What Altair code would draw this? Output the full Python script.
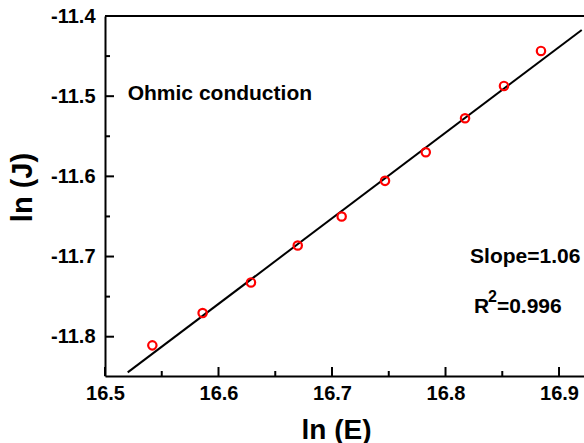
import altair as alt
import pandas as pd

# data
lnE = [16.5417, 16.5860, 16.6286, 16.6698, 16.7085, 16.7467, 16.7826, 16.8172, 16.8515, 16.8841]
lnJ = [-11.8108, -11.7705, -11.7323, -11.6862, -11.6501, -11.6056, -11.5699, -11.5275, -11.4872, -11.4436]
fit_x = [16.52, 16.92]
fit_y = [-11.8445, -11.4174]

x_major = [16.5, 16.6, 16.7, 16.8, 16.9]
x_minor = [16.55, 16.65, 16.75, 16.85]
y_major = [-11.8, -11.7, -11.6, -11.5, -11.4]
y_minor = [-11.75, -11.65, -11.55, -11.45]

X_DOM = [16.5, 16.922]
Y_DOM = [-11.849, -11.4]
FONT = "Liberation Sans"

pts = pd.DataFrame({"x": lnE, "y": lnJ})
fit = pd.DataFrame({"x": fit_x, "y": fit_y})

xs = alt.Scale(domain=X_DOM, nice=False, zero=False)
ys = alt.Scale(domain=Y_DOM, nice=False, zero=False)

LBL = "replace(format(datum.value, '.1f'), '\u2212', '-')"

xaxis = alt.Axis(values=x_major, labelExpr=LBL, ticks=False, grid=False,
                 domainColor="black", domainWidth=2, labelFont=FONT, labelFontSize=20,
                 labelFontWeight="bold", labelColor="black", labelPadding=7,
                 labelFlush=False,
                 title="ln (E)", titleFont=FONT, titleFontSize=28, titleFontWeight="bold",
                 titleColor="black", titleX=231, titleY=62, titleBaseline="alphabetic",
                 titleAlign="center")
yaxis = alt.Axis(values=y_major, labelExpr=LBL, ticks=False, grid=False,
                 domainColor="black", domainWidth=2, labelFont=FONT, labelFontSize=20,
                 labelFontWeight="bold", labelColor="black", labelPadding=10,
                 labelFlush=False,
                 title="ln (J)", titleFont=FONT, titleFontSize=29, titleFontWeight="bold",
                 titleColor="black", titleX=-83, titleY=171, titleAngle=-90,
                 titleAlign="center", titleBaseline="middle")

line = alt.Chart(fit).mark_line(color="black", strokeWidth=2).encode(
    x=alt.X("x:Q", scale=xs, axis=xaxis),
    y=alt.Y("y:Q", scale=ys, axis=yaxis),
)

points = alt.Chart(pts).mark_point(shape="circle", filled=False, color="#ff0000",
                                   strokeWidth=2.2, size=70, opacity=1).encode(
    x=alt.X("x:Q", scale=xs), y=alt.Y("y:Q", scale=ys))

# inward ticks
xmaj = alt.Chart(pd.DataFrame({"v": x_major})).mark_rule(color="black", strokeWidth=2).encode(
    x=alt.X("v:Q", scale=xs), y=alt.value(360), y2=alt.value(351))
xmin = alt.Chart(pd.DataFrame({"v": x_minor})).mark_rule(color="black", strokeWidth=2).encode(
    x=alt.X("v:Q", scale=xs), y=alt.value(360), y2=alt.value(355))
ymaj = alt.Chart(pd.DataFrame({"v": y_major})).mark_rule(color="black", strokeWidth=2).encode(
    y=alt.Y("v:Q", scale=ys), x=alt.value(0), x2=alt.value(9))
ymin = alt.Chart(pd.DataFrame({"v": y_minor})).mark_rule(color="black", strokeWidth=2).encode(
    y=alt.Y("v:Q", scale=ys), x=alt.value(0), x2=alt.value(5))

top = alt.Chart(pd.DataFrame({"v": [Y_DOM[1]]})).mark_rule(color="black", strokeWidth=2).encode(
    y=alt.Y("v:Q", scale=ys), x=alt.value(0), x2=alt.value(479))

def label(text, x, y, size, dx=0, dy=0):
    return alt.Chart(pd.DataFrame({"x": [x], "y": [y], "t": [text]})).mark_text(
        font=FONT, fontSize=size, fontWeight="bold", color="black", align="left",
        baseline="alphabetic", dx=dx, dy=dy).encode(
        x=alt.X("x:Q", scale=xs), y=alt.Y("y:Q", scale=ys), text="t:N")

ann = [
    label("Ohmic conduction", 16.520, -11.5047, 21),
    label("Slope=1.06", 16.8216, -11.7078, 21),
    label("R", 16.825, -11.770, 21),
    label("2", 16.825, -11.770, 16, dx=14, dy=-11),
    label("=0.996", 16.825, -11.770, 21, dx=23),
]

chart = alt.layer(top, xmaj, xmin, ymaj, ymin, line, points, *ann).properties(
    width=479, height=360,
    autosize=alt.AutoSizeParams(type="none"),
    padding={"left": 105, "top": 16, "right": 0, "bottom": 67},
    background="white",
).configure_view(stroke=None)

chart.save("out.html", embed_options={"renderer": "svg", "actions": False})
